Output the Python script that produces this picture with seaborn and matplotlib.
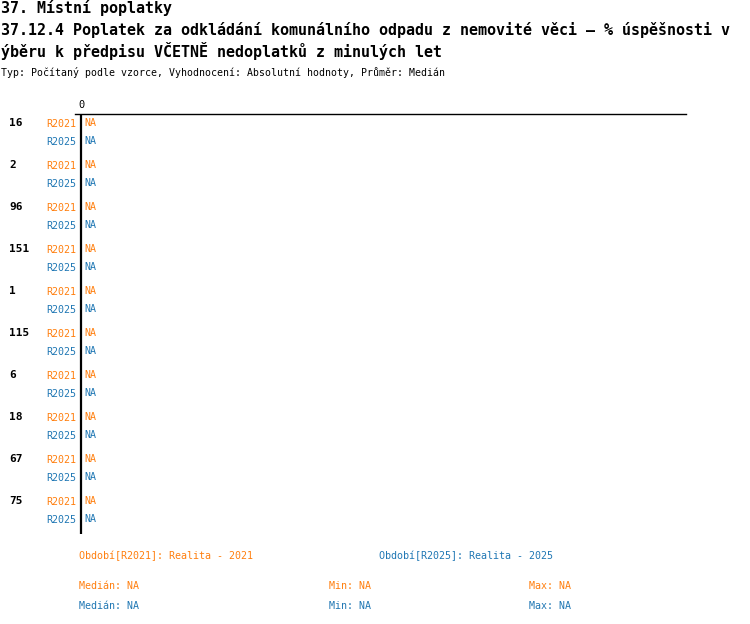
import numpy as np
import pandas as pd
import matplotlib
matplotlib.use("Agg")
import matplotlib.pyplot as plt
import matplotlib.transforms as mtransforms
import seaborn as sns

# ---- data (every value is missing in the source: NA) ----
groups = ["16", "2", "96", "151", "1", "115", "6", "18", "67", "75"]
periods = ["R2021", "R2025"]
values_2021 = [np.nan] * len(groups)
values_2025 = [np.nan] * len(groups)
period_colors = {"R2021": "#ff7f0e", "R2025": "#1f77b4"}

title_lines = [
    "37. Místní poplatky",
    "37.12.4 Poplatek za odkládání komunálního odpadu z nemovité věci – % úspěšnosti v",
    "ýběru k předpisu VČETNĚ nedoplatků z minulých let",
]
subtitle = "Typ: Počítaný podle vzorce, Vyhodnocení: Absolutní hodnoty, Průměr: Medián"
legend_labels = {"R2021": "Období[R2021]: Realita - 2021",
                 "R2025": "Období[R2025]: Realita - 2025"}
stats_median = {"R2021": "NA", "R2025": "NA"}
stats_min = {"R2021": "NA", "R2025": "NA"}
stats_max = {"R2021": "NA", "R2025": "NA"}

df = pd.DataFrame({
    "group": groups * 2,
    "period": ["R2021"] * len(groups) + ["R2025"] * len(groups),
    "value": values_2021 + values_2025,
})

sns.set_theme(style="white")
plt.rcParams["font.family"] = ["DejaVu Sans Mono", "DejaVu Sans"]

W, H = 750, 624
fig = plt.figure(figsize=(W / 100, H / 100), dpi=100)
ax = fig.add_axes([75 / W, 1 - 534 / H, 611 / W, 420 / H])

bar_width = 0.857
sns.barplot(data=df, x="value", y="group", hue="period", order=groups,
            hue_order=periods, palette=period_colors, width=bar_width,
            dodge=True, legend=False, ax=ax)

ax.set_xlim(-6 / 605, 1)
ax.set_ylim(len(groups) - 1 + 0.571, -0.4286)
ax.set_xlabel("")
ax.set_ylabel("")

# spines: only top line and the zero line
for s in ["left", "right", "bottom"]:
    ax.spines[s].set_visible(False)
ax.spines["top"].set_color("black")
ax.spines["top"].set_linewidth(1.0)
ax.axvline(0, color="black", lw=1.6, zorder=5)

ax.xaxis.tick_top()
ax.set_xticks([0])
ax.set_xticklabels(["0"])
ax.tick_params(axis="x", length=0, pad=3, labelsize=7.4, colors="black")

# sub-row labels (period) as y ticks
offsets = {"R2021": -bar_width / 4, "R2025": bar_width / 4}
ypos, ylabs, ycols = [], [], []
for i, g in enumerate(groups):
    for p in periods:
        ypos.append(i + offsets[p])
        ylabs.append(p)
        ycols.append(period_colors[p])
ax.set_yticks(ypos)
ax.set_yticklabels(ylabs)
ax.tick_params(axis="y", length=0, pad=-1.0, labelsize=7.2)
for lab, c in zip(ax.get_yticklabels(), ycols):
    lab.set_color(c)

# NA value labels
vals = {"R2021": values_2021, "R2025": values_2025}
for i, g in enumerate(groups):
    for p in periods:
        v = vals[p][i]
        txt = "NA" if np.isnan(v) else f"{v:g}"
        ax.annotate(txt, xy=(0, i + offsets[p]), xytext=(2.5, 0),
                    textcoords="offset points", ha="left", va="center",
                    fontsize=7.2, color=period_colors[p])

# group labels on the far left, level with the first sub-row
trans = mtransforms.blended_transform_factory(fig.transFigure, ax.transData)
for i, g in enumerate(groups):
    ax.text(9 / W, i + offsets["R2021"], g, transform=trans, ha="left",
            va="center", fontsize=8, fontweight="bold", color="black")

# titles
title_y = [8, 30, 51]
for line, y in zip(title_lines, title_y):
    fig.text(1 / W, 1 - y / H, line, ha="left", va="center",
             fontsize=10.8, fontweight="bold", color="black")
fig.text(1 / W, 1 - 73 / H, subtitle, ha="left", va="center",
         fontsize=7.1, color="black")

# footer legend and statistics
fig.text(79 / W, 1 - 556 / H, legend_labels["R2021"], ha="left", va="center",
         fontsize=7.2, color=period_colors["R2021"])
fig.text(379 / W, 1 - 556 / H, legend_labels["R2025"], ha="left", va="center",
         fontsize=7.2, color=period_colors["R2025"])
for p, y in zip(periods, [586, 606]):
    c = period_colors[p]
    fig.text(79 / W, 1 - y / H, f"Medián: {stats_median[p]}", ha="left",
             va="center", fontsize=7.2, color=c)
    fig.text(329 / W, 1 - y / H, f"Min: {stats_min[p]}", ha="left",
             va="center", fontsize=7.2, color=c)
    fig.text(529 / W, 1 - y / H, f"Max: {stats_max[p]}", ha="left",
             va="center", fontsize=7.2, color=c)

fig.savefig("out.png", dpi=100, facecolor="white")
